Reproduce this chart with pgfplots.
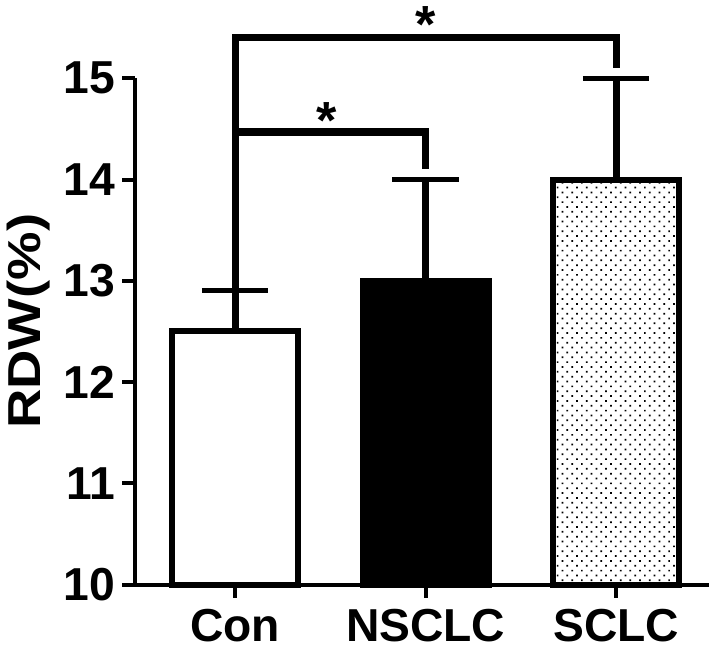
\documentclass[border=0pt]{standalone}
\usepackage{fontspec}
\setmainfont{Liberation Sans}
\usepackage{graphicx}
\usepackage{pgfplots}
\pgfplotsset{compat=1.18}
\usetikzlibrary{patterns.meta}
\begin{document}
\begin{tikzpicture}
\begin{axis}[
    scale only axis,
    width=284.5bp, height=251bp,
    xmin=-0.524, xmax=2.487,
    ymin=10, ymax=15,
    axis lines*=left,
    axis line style={line width=2bp},
    clip=false,
    xtick={0,1,2},
    xticklabels={Con,NSCLC,SCLC},
    ytick={10,11,12,13,14,15},
    tick style={line width=2bp, black},
    tick align=outside,
    major tick length=6.5bp,
    x tick label style={yshift=-2bp},
    ticklabel style={font=\fontsize{23}{27}\selectfont\bfseries},
    /pgf/number format/assume math mode=true,
    ylabel={\scalebox{1.18}[1]{RDW(\%)}},
    ylabel style={font=\fontsize{23}{27}\selectfont\bfseries, at={(ticklabel cs:0.52)}},
    error bars/y dir=plus,
    error bars/y explicit,
    error bars/error bar style={line width=3.5bp, black},
    error bars/error mark options={line width=2.5bp, mark size=16.5bp, black, rotate=90},
]
% significance brackets
\addplot[black, line width=3.5bp, no markers] coordinates {(0,12.9) (0,15.4) (2,15.4) (2,15.1)};
\addplot[black, line width=3.5bp, no markers] coordinates {(0,14.47) (1,14.47) (1,14.1)};
% bars
\addplot[ybar, bar width=0.66, bar shift=0pt, draw=black, line width=3bp, fill=white]
    coordinates {(0,12.5) +- (0,0.4)};
\addplot[ybar, bar width=0.66, bar shift=0pt, draw=black, line width=3bp, fill=black]
    coordinates {(1,13.0) +- (0,1.0)};
\addplot[ybar, bar width=0.66, bar shift=0pt, draw=black, line width=3bp, fill=white,
    postaction={pattern={Dots[angle=45, distance=3.4bp, radius=0.6bp]}}]
    coordinates {(2,14.0) +- (0,1.0)};
\node[font=\fontsize{26}{30}\selectfont\bfseries] at (axis cs:1,15.53) {*};
\node[font=\fontsize{26}{30}\selectfont\bfseries] at (axis cs:0.48,14.58) {*};
\end{axis}
\end{tikzpicture}
\end{document}
